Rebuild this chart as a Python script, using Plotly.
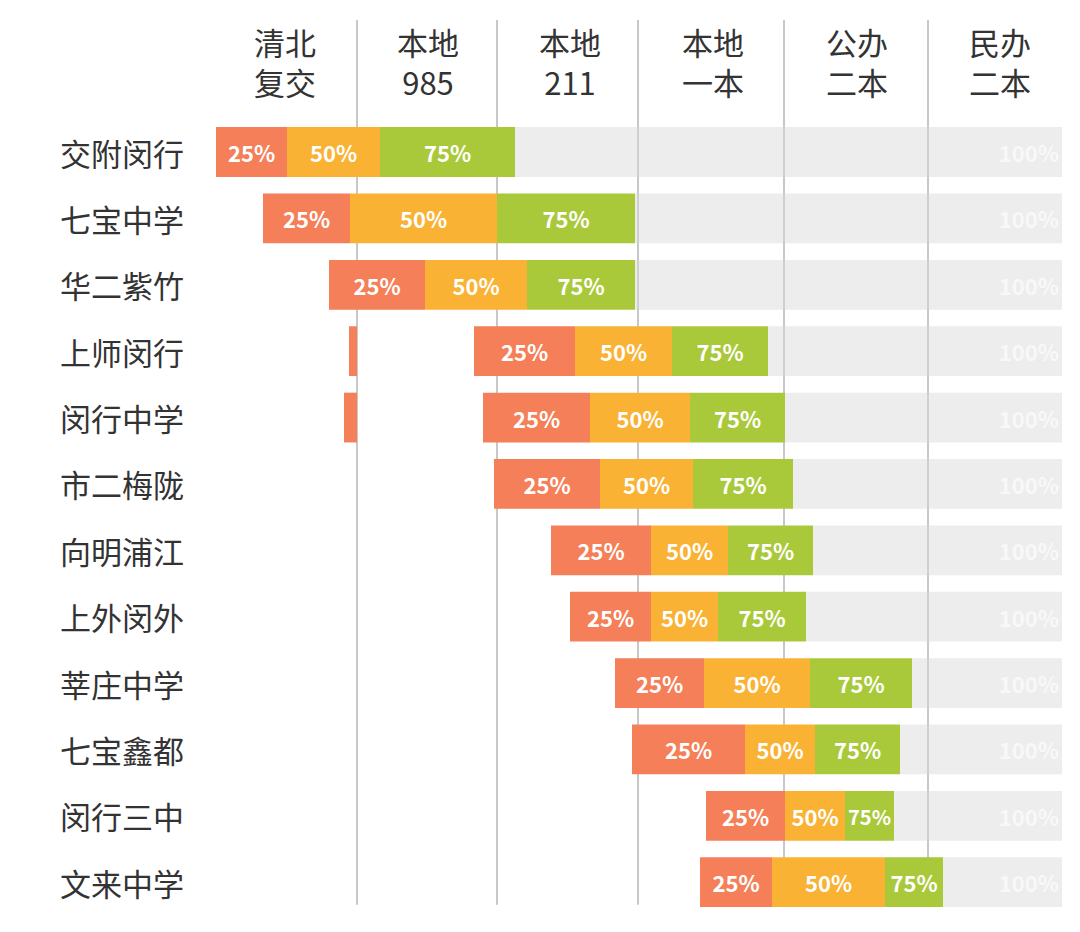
import plotly.graph_objects as go

schools = ["交附闵行","七宝中学","华二紫竹","上师闵行","闵行中学","市二梅陇","向明浦江","上外闵外","莘庄中学","七宝鑫都","闵行三中","文来中学"]
headers = ["清北<br>复交","本地<br>985","本地<br>211","本地<br>一本","公办<br>二本","民办<br>二本"]
header_x = [285, 428, 570, 713, 857, 1000]
dividers = [357, 497, 638, 784, 928]
# positions on the school-tier scale (chart units)
start = [216, 263, 329, 474, 483, 494, 551, 570, 615, 632, 706, 700]
p25   = [287, 350, 425, 575, 590, 600, 651, 651, 704, 745, 785, 772]
p50   = [380, 497, 527, 672, 690, 693, 728, 718, 810, 815, 845, 885]
p75   = [515, 635, 635, 768, 785, 793, 813, 806, 912, 900, 894, 943]
p100  = [1062]*12
low_start = [None, None, None, 349, 344, None, None, None, None, None, None, None]
low_end   = [None, None, None, 357, 357, None, None, None, None, None, None, None]

rows = list(range(len(schools)))
fig = go.Figure()
def seg(a, b, color, label, fcolor="white", anchor="middle"):
    fig.add_trace(go.Bar(orientation="h", y=rows, x=[e-s for s, e in zip(a, b)], base=a,
        marker=dict(color=color, line_width=0), width=0.75, text=[label]*len(rows),
        textposition="inside", insidetextanchor=anchor, textangle=0, cliponaxis=False,
        textfont=dict(color=fcolor, size=22, family="Noto Sans CJK SC", weight="bold"),
        showlegend=False, hoverinfo="skip"))
seg(p75, p100, "rgba(215,215,215,0.45)", "100%", "#F8F8F8", "end")
seg(start, p25, "#F47F58", "25%")
seg(p25, p50, "#F9B234", "50%")
seg(p50, p75, "#A9C93B", "75%")
ly = [r for r, s in zip(rows, low_start) if s is not None]
ls = [s for s in low_start if s is not None]
le = [e for e in low_end if e is not None]
fig.add_trace(go.Bar(orientation="h", y=ly, x=[e-s for s, e in zip(ls, le)], base=ls,
    marker=dict(color="#F47F58", line_width=0), width=0.75, showlegend=False, hoverinfo="skip"))

for d in dividers:
    fig.add_shape(type="line", x0=d, x1=d, y0=-1.99, y1=11.34, line=dict(color="#C8C8C8", width=2), layer="below")
for h, x in zip(headers, header_x):
    fig.add_annotation(x=x, y=-1.36, text=h, showarrow=False,
                       font=dict(size=31, color="#333", family="Noto Sans CJK SC"))
for s, r in zip(schools, rows):
    fig.add_annotation(x=186, y=r, xanchor="right", text=s, showarrow=False,
                       font=dict(size=31, color="#333", family="Noto Sans CJK SC"))

off = 8 / 66.4
fig.update_layout(barmode="overlay", width=1080, height=932, margin=dict(l=0, r=0, t=0, b=0),
    plot_bgcolor="white", paper_bgcolor="white",
    xaxis=dict(range=[8, 1088], visible=False),
    yaxis=dict(range=[11.75 + off, -2.29 + off], visible=False))
fig.write_html("out.html")
